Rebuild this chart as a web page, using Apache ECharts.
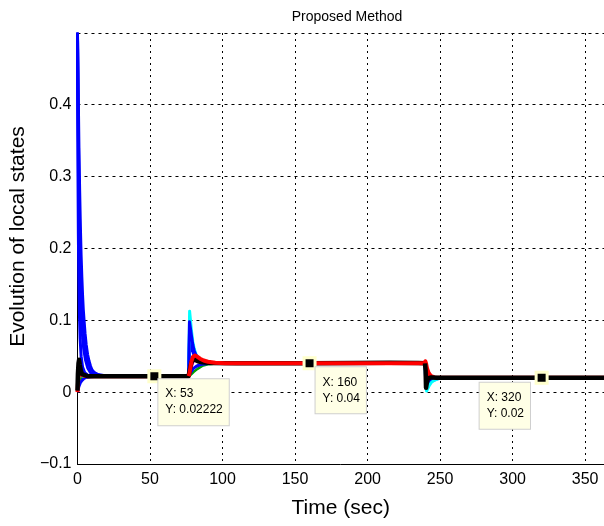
<!DOCTYPE html>
<html>
<head>
<meta charset="utf-8">
<script src="https://cdn.jsdelivr.net/npm/echarts@6/dist/echarts.min.js"></script>
<style>
html,body{margin:0;padding:0;background:#fff;}
#chart{width:604px;height:526px;}
</style>
</head>
<body>
<div id="chart"></div>
<script>
// ---- data (time in sec, state value) ----
const titleText = 'Proposed Method';
const xName = 'Time (sec)';
const yName = 'Evolution of local states';

const magentaAgent = [[0,0.006],[1,0.02],[2,0.024],[4,0.0225],[7,0.0222],[76.6,0.0222],[78,0.03],[80,0.042],[82,0.044],[86,0.042],[95,0.0405],[239.6,0.04],[240.2,0.025],[241,0.018],[243,0.0185],[247,0.0198],[255,0.02],[363,0.02]];
const greenAgent = [[0,0.012],[1,0.016],[2.5,0.019],[5,0.0215],[8,0.0222],[76.6,0.0222],[78,0.024],[80,0.028],[82.5,0.032],[86,0.0365],[90,0.0388],[96,0.0398],[105,0.04],[239.6,0.04],[240.2,0.016],[241,0.011],[242.5,0.013],[245,0.017],[249,0.0192],[256,0.02],[363,0.02]];
const blueLow = [[0,0.0],[0.5,0.004],[1,0.008],[2,0.013],[3,0.016],[4.5,0.019],[6,0.0205],[9,0.0215],[14,0.0222],[76.6,0.0222],[77.4,0.06],[78,0.07],[79,0.06],[80.5,0.05],[83,0.044],[87,0.041],[95,0.0402],[239.6,0.04],[240.2,0.03],[241,0.022],[243,0.02],[363,0.02]];
const blueSlow = [[0,0.5],[0.5,0.42],[1,0.34],[1.5,0.28],[2,0.23],[2.5,0.19],[3,0.16],[3.5,0.135],[4,0.115],[4.6,0.098],[5.2,0.082],[6,0.066],[7,0.052],[8,0.043],[9,0.036],[10,0.031],[12,0.026],[15,0.0235],[20,0.0225],[30,0.0222],[76.6,0.0222],[77.4,0.025],[78.5,0.029],[80,0.033],[82,0.036],[85,0.0385],[90,0.0397],[100,0.04],[239.6,0.04],[240.1,0.012],[240.7,0.005],[241.5,0.008],[243,0.013],[245,0.016],[248,0.0185],[253,0.0198],[260,0.02],[363,0.02]];
const blueMid2 = [[0,0.5],[0.4,0.4],[1,0.29],[1.6,0.22],[2.3,0.16],[3.2,0.115],[4.2,0.085],[5.5,0.06],[7,0.044],[9,0.033],[11,0.028],[14,0.0245],[20,0.0226],[30,0.0222],[76.6,0.0222],[77.3,0.075],[78.2,0.072],[79.5,0.061],[81,0.052],[83,0.046],[86,0.0425],[92,0.0406],[100,0.04],[239.6,0.04],[240.2,0.028],[241,0.02],[243,0.019],[248,0.02],[363,0.02]];
const blueMid = [[0,0.5],[0.3,0.4],[0.7,0.3],[1.2,0.21],[1.8,0.15],[2.5,0.11],[3.3,0.082],[4.3,0.06],[5.5,0.045],[7,0.034],[9,0.027],[12,0.0235],[18,0.0223],[30,0.0222],[76.6,0.0222],[77.3,0.09],[78,0.083],[79,0.07],[80.5,0.057],[82.5,0.048],[85,0.0435],[90,0.041],[100,0.04],[239.6,0.04],[240.2,0.02],[241,0.012],[242.5,0.015],[245,0.018],[250,0.0197],[258,0.02],[363,0.02]];
const cyanAgent = [[0,0.02],[1,0.024],[3,0.0225],[6,0.0222],[76.6,0.0222],[77.3,0.1125],[77.9,0.1],[78.6,0.085],[79.5,0.07],[80.5,0.06],[82,0.051],[84,0.046],[87,0.0425],[92,0.0408],[100,0.04],[239.6,0.04],[240.2,0.008],[240.7,0.0015],[241.5,0.004],[242.5,0.009],[244,0.0135],[246,0.0165],[249,0.0188],[254,0.0198],[262,0.02],[363,0.02]];
const blueFast = [[0,0.5],[0.15,0.4],[0.35,0.3],[0.6,0.22],[0.9,0.16],[1.3,0.11],[1.8,0.075],[2.5,0.05],[3.5,0.035],[5,0.027],[7,0.0235],[10,0.0223],[76.6,0.0222],[77.2,0.098],[77.8,0.09],[78.6,0.078],[79.5,0.066],[80.5,0.057],[82,0.05],[84,0.0455],[87,0.0425],[92,0.0408],[100,0.04],[239.6,0.04],[240.1,0.036],[240.8,0.03],[241.8,0.025],[243.5,0.0215],[247,0.02],[363,0.02]];
const redEarly = [[0,0.0],[0.4,0.015],[0.8,0.026],[1.3,0.03],[2,0.027],[3,0.024],[4.5,0.0228],[7,0.0222],[76.6,0.0222]];
const blackEarly = [[0,0.002],[0.3,0.025],[0.7,0.04],[1.1,0.045],[1.6,0.038],[2.3,0.03],[3.2,0.025],[4.5,0.0228],[7,0.0222],[53,0.02222],[76.6,0.0222],[77.5,0.032],[78.5,0.041],[79.5,0.045],[81,0.045],[83,0.043],[86,0.0415],[92,0.0405],[110,0.04],[160,0.04],[190,0.0405],[215,0.0408],[235,0.0404],[239.6,0.04]];
const redLate = [[76.6,0.0222],[77.2,0.026],[77.8,0.034],[78.6,0.043],[79.6,0.049],[81,0.051],[82.5,0.0495],[84.5,0.0465],[87,0.044],[90,0.0423],[95,0.041],[102,0.0403],[115,0.04],[160,0.04],[239.4,0.04],[239.8,0.043],[240.3,0.04],[241,0.033],[242,0.027],[243.5,0.0228],[246,0.0205],[250,0.02],[363,0.02]];
const blackLate = [[239.6,0.04],[240,0.03],[240.3,0.006],[240.8,0.012],[241.5,0.019],[242.5,0.0215],[244,0.0205],[248,0.02],[320,0.02],[363,0.02]];

// data tips
const tipX = [53, 160, 320];
const tipY = [0.02222, 0.04, 0.02];
const tipLabelPos = [[11,10],[13,11],[-55,12]];

const FONT = "'Liberation Sans', Arial, Helvetica, sans-serif";

function line(name, data, color, width) {
  return {
    name: name, type: 'line', data: data, showSymbol: false, symbol: 'none',
    lineStyle: { color: color, width: width, join: 'round' },
    itemStyle: { color: color }, animation: false, silent: true
  };
}

const series = [
  line('m', magentaAgent, '#cc00cc', 2),
  line('g', greenAgent, '#00a000', 2.5),
  line('b1', blueLow, '#0000ff', 3),
  line('b2', blueSlow, '#0000ff', 3),
  line('b3', blueMid2, '#0000ff', 3),
  line('b4', blueMid, '#0000ff', 3),
  line('c', cyanAgent, '#00ffff', 3),
  line('b5', blueFast, '#0000ff', 3),
  line('r1', redEarly, '#ff0000', 4),
  line('k1', blackEarly, '#000000', 4.5),
  line('r2', redLate, '#ff0000', 4),
  line('k2', blackLate, '#000000', 4.5)
];

series.push({
  type: 'line', data: [], silent: true, animation: false,
  markPoint: {
    animation: false,
    symbol: 'rect', symbolSize: 11,
    itemStyle: { color: '#000', borderColor: '#ffffcc', borderWidth: 3 },
    data: tipX.map((x, i) => ({
      coord: [x, tipY[i]],
      label: {
        show: true,
        position: tipLabelPos[i],
        align: 'left', verticalAlign: 'top',
        formatter: 'X: ' + x + '\nY: ' + tipY[i],
        fontFamily: FONT, fontSize: 12, lineHeight: 16, color: '#000',
        backgroundColor: '#ffffe6', borderColor: '#cfcfcf', borderWidth: 1,
        padding: [7, 6, 7, 7]
      }
    }))
  }
});

const chart = echarts.init(document.getElementById('chart'), null, { renderer: 'canvas' });
chart.setOption({
  animation: false,
  backgroundColor: '#ffffff',
  title: {
    text: titleText, left: 342, top: 5, textAlign: 'center',
    textStyle: { fontFamily: FONT, fontSize: 14, fontWeight: 'normal', color: '#000' }
  },
  grid: { left: 76, right: 0, top: 33, bottom: 62, containLabel: false },
  xAxis: {
    type: 'value', min: 0, max: 363, interval: 50,
    name: xName, nameLocation: 'middle', nameGap: 34,
    nameTextStyle: { fontFamily: FONT, fontSize: 21, color: '#000' },
    axisLine: { show: true, onZero: false, lineStyle: { color: '#000', width: 1 } },
    axisTick: { show: false },
    axisLabel: { fontFamily: FONT, fontSize: 16, color: '#000', margin: 8 },
    splitLine: { show: true, lineStyle: { color: '#000', width: 1, type: [2, 4] } }
  },
  yAxis: {
    type: 'value', min: -0.1, max: 0.4996, interval: 0.1,
    name: yName, nameLocation: 'middle', nameGap: 48,
    nameTextStyle: { fontFamily: FONT, fontSize: 21, color: '#000', padding: [0, 0, 0, 24] },
    axisLine: { show: true, lineStyle: { color: '#000', width: 1 } },
    axisTick: { show: false },
    axisLabel: {
      fontFamily: FONT, fontSize: 16, color: '#000', margin: 6,
      formatter: function (v) {
        const r = Math.round(v * 10) / 10;
        if (r > 0.45) return '';
        return r < 0 ? '\u2212' + Math.abs(r) : String(r);
      }
    },
    splitLine: { show: true, lineStyle: { color: '#000', width: 1, type: [3, 4] } }
  },
  series: series
});
</script>
</body>
</html>
